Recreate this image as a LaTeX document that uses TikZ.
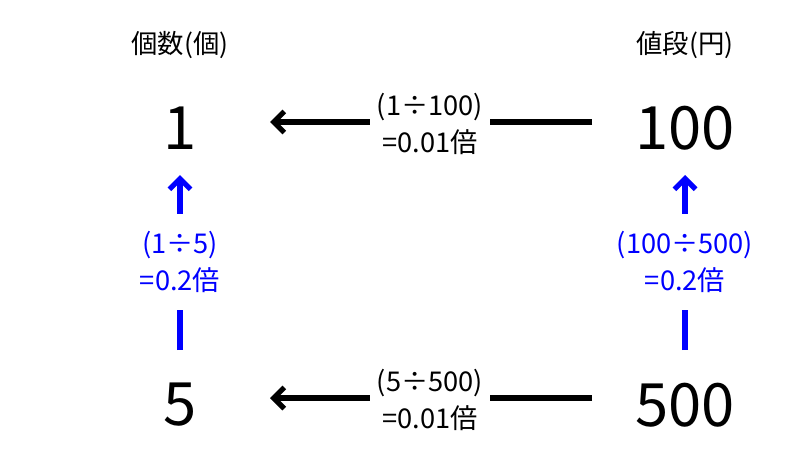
\documentclass[tikz,border=0pt]{standalone}
\usepackage{fontspec}
\setmainfont{Noto Sans CJK JP}
\usetikzlibrary{arrows.meta}
\definecolor{pblue}{RGB}{0,0,255}
\tikzset{
 num/.style={font=\fontsize{34}{36}\selectfont},
 head/.style={font=\fontsize{15}{17}\selectfont},
 lab/.style={font=\fontsize{15.5}{21}\selectfont,align=center,fill=white,inner sep=2pt},
 arr/.style={line width=3pt,-{Straight Barb[length=6pt,width=12pt]}},
}
\begin{document}
\begin{tikzpicture}[x=0.02cm,y=-0.02cm]
\useasboundingbox (0,0) rectangle (800,450);
\node[head] (h1) at (180,45) {個数(個)};
\node[head] (h2) at (685,45) {値段(円)};
\node[num] (n1) at (180,128) {1};
\node[num] (n100) at (685,128) {100};
\node[num] (n5) at (180,405) {5};
\node[num] (n500) at (685,405) {500};
\coordinate (t1) at (592,122); \coordinate (t2) at (270,122);
\coordinate (b1) at (592,398); \coordinate (b2) at (270,398);
\coordinate (l1) at (180,350); \coordinate (l2) at (180,175);
\coordinate (r1) at (685,350); \coordinate (r2) at (685,175);
\draw[arr] (t1) -- (t2);
\draw[arr] (b1) -- (b2);
\draw[arr,pblue] (l1) -- (l2);
\draw[arr,pblue] (r1) -- (r2);
\node[lab,inner xsep=4pt] (lt) at (430,124) {(1÷100)\\=0.01倍};
\node[lab,inner xsep=4pt] (lb) at (430,400) {(5÷500)\\=0.01倍};
\node[lab,text=pblue,inner ysep=10pt] (ll) at (180,262) {(1÷5)\\=0.2倍};
\node[lab,text=pblue,inner ysep=10pt] (lr) at (685,262) {(100÷500)\\=0.2倍};
\end{tikzpicture}
\end{document}
